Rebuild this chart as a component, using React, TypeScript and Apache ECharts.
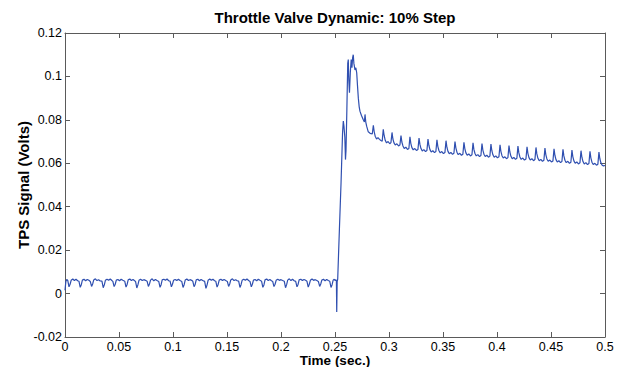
import React, { useEffect, useRef } from "react";
import * as echarts from "echarts";

const titleText = "Throttle Valve Dynamic: 10% Step";
const xAxisName = "Time (sec.)";
const yAxisName = "TPS Signal (Volts)";
const xTicks = { min: 0, max: 0.5, interval: 0.05 };
const yTicks = { min: -0.02, max: 0.12, interval: 0.02 };

// [time (s), TPS signal (V)]
const preStep: [number, number][] = [
  [0.0000, 0.0015], [0.0008, 0.0056], [0.0016, 0.0065], [0.0026, 0.0060],
  [0.0037, 0.0031], [0.0047, 0.0043], [0.0057, 0.0061], [0.0072, 0.0067], [0.0087, 0.0060], [0.0102, 0.0066], [0.0117, 0.0059], [0.0129, 0.0057],
  [0.0141, 0.0029], [0.0151, 0.0041], [0.0161, 0.0062], [0.0176, 0.0066], [0.0191, 0.0059], [0.0206, 0.0065], [0.0221, 0.0061], [0.0234, 0.0056],
  [0.0246, 0.0033], [0.0256, 0.0044], [0.0266, 0.0063], [0.0281, 0.0068], [0.0296, 0.0060], [0.0311, 0.0064], [0.0326, 0.0058], [0.0342, 0.0057],
  [0.0354, 0.0027], [0.0364, 0.0040], [0.0374, 0.0061], [0.0389, 0.0066], [0.0404, 0.0061], [0.0419, 0.0067], [0.0434, 0.0060], [0.0443, 0.0056],
  [0.0455, 0.0032], [0.0465, 0.0043], [0.0475, 0.0062], [0.0490, 0.0065], [0.0505, 0.0059], [0.0520, 0.0066], [0.0535, 0.0061], [0.0553, 0.0057],
  [0.0565, 0.0030], [0.0575, 0.0042], [0.0585, 0.0063], [0.0600, 0.0067], [0.0615, 0.0060], [0.0630, 0.0065], [0.0645, 0.0059], [0.0653, 0.0056],
  [0.0665, 0.0026], [0.0675, 0.0040], [0.0685, 0.0061], [0.0700, 0.0066], [0.0715, 0.0060], [0.0730, 0.0064], [0.0745, 0.0061], [0.0760, 0.0057],
  [0.0772, 0.0033], [0.0782, 0.0044], [0.0792, 0.0062], [0.0807, 0.0068], [0.0822, 0.0059], [0.0837, 0.0065], [0.0852, 0.0060], [0.0868, 0.0056],
  [0.0880, 0.0029], [0.0890, 0.0041], [0.0900, 0.0063], [0.0915, 0.0066], [0.0930, 0.0061], [0.0945, 0.0067], [0.0960, 0.0059], [0.0973, 0.0057],
  [0.0985, 0.0031], [0.0995, 0.0043], [0.1005, 0.0061], [0.1020, 0.0065], [0.1035, 0.0060], [0.1050, 0.0066], [0.1065, 0.0060], [0.1081, 0.0056],
  [0.1093, 0.0028], [0.1103, 0.0041], [0.1113, 0.0062], [0.1128, 0.0067], [0.1143, 0.0060], [0.1158, 0.0064], [0.1173, 0.0061], [0.1183, 0.0057],
  [0.1195, 0.0032], [0.1205, 0.0042], [0.1215, 0.0063], [0.1230, 0.0066], [0.1245, 0.0059], [0.1260, 0.0065], [0.1275, 0.0060], [0.1293, 0.0056],
  [0.1305, 0.0024], [0.1315, 0.0039], [0.1325, 0.0061], [0.1340, 0.0067], [0.1355, 0.0061], [0.1370, 0.0066], [0.1385, 0.0059], [0.1396, 0.0057],
  [0.1408, 0.0030], [0.1418, 0.0042], [0.1428, 0.0062], [0.1443, 0.0066], [0.1458, 0.0060], [0.1473, 0.0065], [0.1488, 0.0060], [0.1503, 0.0056],
  [0.1515, 0.0033], [0.1525, 0.0044], [0.1535, 0.0063], [0.1550, 0.0068], [0.1565, 0.0060], [0.1580, 0.0064], [0.1595, 0.0059], [0.1608, 0.0057],
  [0.1620, 0.0028], [0.1630, 0.0041], [0.1640, 0.0061], [0.1655, 0.0066], [0.1670, 0.0061], [0.1685, 0.0067], [0.1700, 0.0060], [0.1713, 0.0056],
  [0.1725, 0.0031], [0.1735, 0.0043], [0.1745, 0.0062], [0.1760, 0.0065], [0.1775, 0.0059], [0.1790, 0.0066], [0.1805, 0.0061], [0.1820, 0.0057],
  [0.1832, 0.0029], [0.1842, 0.0040], [0.1852, 0.0063], [0.1867, 0.0067], [0.1882, 0.0060], [0.1897, 0.0065], [0.1912, 0.0059], [0.1923, 0.0056],
  [0.1935, 0.0032], [0.1945, 0.0043], [0.1955, 0.0061], [0.1970, 0.0066], [0.1985, 0.0061], [0.2000, 0.0064], [0.2015, 0.0060], [0.2030, 0.0057],
  [0.2042, 0.0027], [0.2052, 0.0041], [0.2062, 0.0062], [0.2077, 0.0068], [0.2092, 0.0060], [0.2107, 0.0066], [0.2122, 0.0059], [0.2136, 0.0056],
  [0.2148, 0.0031], [0.2158, 0.0042], [0.2168, 0.0063], [0.2183, 0.0066], [0.2198, 0.0060], [0.2213, 0.0065], [0.2228, 0.0061], [0.2240, 0.0057],
  [0.2252, 0.0030], [0.2262, 0.0043], [0.2272, 0.0061], [0.2287, 0.0067], [0.2302, 0.0061], [0.2317, 0.0064], [0.2332, 0.0060], [0.2346, 0.0056],
  [0.2358, 0.0033], [0.2368, 0.0044], [0.2378, 0.0062], [0.2393, 0.0066], [0.2408, 0.0059], [0.2423, 0.0065], [0.2438, 0.0060], [0.2451, 0.0057],
  [0.2463, 0.0028], [0.2473, 0.0041], [0.2483, 0.0062], [0.2493, 0.0066],
];

const stepTransient: [number, number][] = [
  [0.2500, 0.0060], [0.2508, 0.0064], [0.2513, 0.0058], [0.2516, -0.0085], [0.2520, 0.0055],
  [0.2525, 0.0066], [0.2541, 0.0300], [0.2556, 0.0510], [0.2570, 0.0740], [0.2577, 0.0794],
  [0.2583, 0.0770], [0.2591, 0.0720], [0.2597, 0.0617], [0.2602, 0.0660], [0.2610, 0.0850],
  [0.2618, 0.1060], [0.2623, 0.1078], [0.2628, 0.0980], [0.2634, 0.0925], [0.2642, 0.1020],
  [0.2650, 0.1078], [0.2657, 0.1040], [0.2663, 0.1085], [0.2669, 0.1100], [0.2675, 0.1060],
  [0.2685, 0.1030], [0.2693, 0.1040], [0.2701, 0.1017], [0.2708, 0.0960], [0.2716, 0.0900],
  [0.2724, 0.0860], [0.2731, 0.0840], [0.2745, 0.0820], [0.2762, 0.0800], [0.2772, 0.0790],
  [0.2778, 0.0825], [0.2785, 0.0790], [0.2793, 0.0771], [0.2808, 0.0745], [0.2825, 0.0738],
  [0.2845, 0.0735], [0.2855, 0.0775], [0.2863, 0.0745], [0.2872, 0.0725], [0.2885, 0.0712],
  [0.2898, 0.0718], [0.2912, 0.0710], [0.2925, 0.0705], [0.2937, 0.0702],
];

const settling: [number, number][] = [
  [0.2947, 0.0756], [0.2955, 0.0728], [0.2965, 0.0706], [0.2977, 0.0694], [0.2992, 0.0700], [0.3007, 0.0690], [0.3018, 0.0695],
  [0.3028, 0.0742], [0.3036, 0.0712], [0.3046, 0.0694], [0.3058, 0.0684], [0.3073, 0.0690], [0.3088, 0.0680], [0.3101, 0.0684],
  [0.3111, 0.0728], [0.3119, 0.0698], [0.3129, 0.0680], [0.3141, 0.0668], [0.3156, 0.0674], [0.3171, 0.0664], [0.3184, 0.0668],
  [0.3194, 0.0722], [0.3202, 0.0692], [0.3212, 0.0672], [0.3224, 0.0662], [0.3239, 0.0668], [0.3254, 0.0659], [0.3268, 0.0664],
  [0.3278, 0.0716], [0.3286, 0.0688], [0.3296, 0.0668], [0.3308, 0.0657], [0.3323, 0.0663], [0.3338, 0.0654], [0.3351, 0.0659],
  [0.3361, 0.0712], [0.3369, 0.0683], [0.3379, 0.0663], [0.3391, 0.0652], [0.3406, 0.0658], [0.3421, 0.0649], [0.3434, 0.0654],
  [0.3444, 0.0708], [0.3452, 0.0678], [0.3462, 0.0659], [0.3474, 0.0648], [0.3489, 0.0654], [0.3504, 0.0645], [0.3518, 0.0650],
  [0.3528, 0.0704], [0.3536, 0.0674], [0.3546, 0.0655], [0.3558, 0.0644], [0.3573, 0.0650], [0.3588, 0.0641], [0.3601, 0.0646],
  [0.3611, 0.0700], [0.3619, 0.0671], [0.3629, 0.0651], [0.3641, 0.0640], [0.3656, 0.0646], [0.3671, 0.0637], [0.3684, 0.0642],
  [0.3694, 0.0697], [0.3702, 0.0668], [0.3712, 0.0648], [0.3724, 0.0637], [0.3739, 0.0643], [0.3754, 0.0634], [0.3768, 0.0639],
  [0.3778, 0.0694], [0.3786, 0.0664], [0.3796, 0.0645], [0.3808, 0.0634], [0.3823, 0.0640], [0.3838, 0.0631], [0.3851, 0.0636],
  [0.3861, 0.0691], [0.3869, 0.0661], [0.3879, 0.0642], [0.3891, 0.0631], [0.3906, 0.0637], [0.3921, 0.0628], [0.3934, 0.0633],
  [0.3944, 0.0688], [0.3952, 0.0659], [0.3962, 0.0639], [0.3974, 0.0628], [0.3989, 0.0634], [0.4004, 0.0625], [0.4018, 0.0630],
  [0.4028, 0.0685], [0.4036, 0.0655], [0.4046, 0.0635], [0.4058, 0.0624], [0.4073, 0.0630], [0.4088, 0.0621], [0.4101, 0.0626],
  [0.4111, 0.0682], [0.4119, 0.0652], [0.4129, 0.0632], [0.4141, 0.0621], [0.4156, 0.0627], [0.4171, 0.0618], [0.4184, 0.0623],
  [0.4194, 0.0679], [0.4202, 0.0649], [0.4212, 0.0629], [0.4224, 0.0618], [0.4239, 0.0624], [0.4254, 0.0615], [0.4268, 0.0620],
  [0.4278, 0.0676], [0.4286, 0.0646], [0.4296, 0.0626], [0.4308, 0.0615], [0.4323, 0.0621], [0.4338, 0.0612], [0.4351, 0.0617],
  [0.4361, 0.0673], [0.4369, 0.0643], [0.4379, 0.0623], [0.4391, 0.0612], [0.4406, 0.0618], [0.4421, 0.0609], [0.4434, 0.0614],
  [0.4444, 0.0670], [0.4452, 0.0640], [0.4462, 0.0620], [0.4474, 0.0609], [0.4489, 0.0615], [0.4504, 0.0606], [0.4518, 0.0611],
  [0.4528, 0.0667], [0.4536, 0.0637], [0.4546, 0.0617], [0.4558, 0.0606], [0.4573, 0.0612], [0.4588, 0.0603], [0.4601, 0.0608],
  [0.4611, 0.0664], [0.4619, 0.0634], [0.4629, 0.0614], [0.4641, 0.0603], [0.4656, 0.0609], [0.4671, 0.0600], [0.4684, 0.0605],
  [0.4694, 0.0661], [0.4702, 0.0631], [0.4712, 0.0611], [0.4724, 0.0600], [0.4739, 0.0606], [0.4754, 0.0597], [0.4768, 0.0602],
  [0.4778, 0.0658], [0.4786, 0.0628], [0.4796, 0.0608], [0.4808, 0.0597], [0.4823, 0.0603], [0.4838, 0.0594], [0.4851, 0.0599],
  [0.4861, 0.0655], [0.4869, 0.0625], [0.4879, 0.0605], [0.4891, 0.0594], [0.4906, 0.0600], [0.4921, 0.0591], [0.4934, 0.0596],
  [0.4944, 0.0652], [0.4952, 0.0622], [0.4962, 0.0602], [0.4974, 0.0591], [0.4986, 0.0588], [0.5000, 0.0590],
];

const FONT = "'Liberation Sans', Arial, Helvetica, sans-serif";
const AXIS_COLOR = "#5a5a5a";
const LINE_COLOR = "#2f4fb0";

const fmt = (v: number) => String(parseFloat(v.toFixed(4)));

export default function App() {
  const ref = useRef<HTMLDivElement>(null);

  useEffect(() => {
    if (!ref.current) return;
    const chart = echarts.init(ref.current, null, { renderer: "svg" });
    const baseAxis = {
      type: "value" as const,
      axisLine: { show: true, onZero: false, lineStyle: { color: AXIS_COLOR, width: 1 } },
      axisTick: { show: true, inside: true, length: 5, lineStyle: { color: AXIS_COLOR } },
      splitLine: { show: false },
    };
    const data = [...preStep, ...stepTransient, ...settling];
    chart.setOption({
      animation: false,
      backgroundColor: "#ffffff",
      grid: {
        left: 65,
        right: 25,
        top: 33,
        bottom: 30,
        containLabel: false,
        outerBoundsMode: "none",
      },
      graphic: [
        {
          type: "text",
          x: 335,
          y: 17,
          style: {
            text: titleText,
            font: `bold 15px ${FONT}`,
            fill: "#000",
            textAlign: "center",
            textVerticalAlign: "middle",
          },
        },
      ],
      xAxis: [
        {
          ...baseAxis,
          position: "bottom",
          min: xTicks.min,
          max: xTicks.max,
          interval: xTicks.interval,
          name: xAxisName,
          nameLocation: "middle",
          nameGap: 16,
          nameMoveOverlap: false,
          nameTextStyle: {
            fontFamily: FONT,
            fontWeight: "bold",
            fontSize: 13.5,
            color: "#000",
            verticalAlign: "top",
          },
          axisLabel: { show: true, margin: 3, fontFamily: FONT, fontSize: 12.5, color: "#000", formatter: fmt },
        },
        {
          ...baseAxis,
          position: "top",
          min: xTicks.min,
          max: xTicks.max,
          interval: xTicks.interval,
          axisLabel: { show: false },
        },
      ],
      yAxis: [
        {
          ...baseAxis,
          position: "left",
          min: yTicks.min,
          max: yTicks.max,
          interval: yTicks.interval,
          name: yAxisName,
          nameLocation: "middle",
          nameGap: 34,
          nameMoveOverlap: false,
          nameRotate: 90,
          nameTextStyle: { fontFamily: FONT, fontWeight: "bold", fontSize: 15, color: "#000" },
          axisLabel: { show: true, margin: 3, fontFamily: FONT, fontSize: 12.5, color: "#000", formatter: fmt },
        },
        {
          ...baseAxis,
          position: "right",
          min: yTicks.min,
          max: yTicks.max,
          interval: yTicks.interval,
          axisLabel: { show: false },
        },
      ],
      series: [
        {
          type: "line",
          data,
          xAxisIndex: 0,
          yAxisIndex: 0,
          showSymbol: false,
          symbol: "none",
          lineStyle: { color: LINE_COLOR, width: 1.2 },
          silent: true,
        },
      ],
    });
    return () => chart.dispose();
  }, []);

  return (
    <div
      ref={ref}
      style={{ position: "fixed", left: 0, top: 0, width: 630, height: 367, background: "#fff" }}
    />
  );
}
